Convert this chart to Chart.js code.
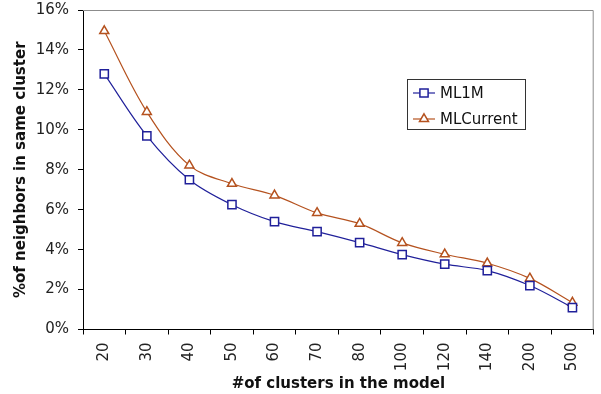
<!DOCTYPE html>
<html>
<head>
<meta charset="utf-8">
<script src="https://cdn.jsdelivr.net/npm/chart.js@4"></script>
<style>
  html, body { margin: 0; padding: 0; background: #fff; }
  #wrap { width: 601px; height: 394px; }
</style>
</head>
<body>
<div id="wrap"><canvas id="chart" width="601" height="394"></canvas></div>
<script>
// data
const clusters = ["20", "30", "40", "50", "60", "70", "80", "100", "120", "140", "200", "500"];
const ml1m = [12.8, 9.7, 7.5, 6.25, 5.4, 4.9, 4.35, 3.75, 3.27, 2.95, 2.2, 1.1];
const mlCurrent = [14.95, 10.9, 8.22, 7.3, 6.72, 5.84, 5.3, 4.34, 3.77, 3.32, 2.56, 1.35];
const yTicks = [0, 2, 4, 6, 8, 10, 12, 14, 16];

const BLUE = "#20209a";
const BROWN = "#b5521f";
const FONT = "'DejaVu Sans', Verdana, sans-serif";

// grey frame on top and right of the plot area
const framePlugin = {
    id: "frame",
    beforeDatasetsDraw(chart) {
        const a = chart.chartArea, ctx = chart.ctx;
        ctx.save();
        ctx.strokeStyle = "#8c8c8c";
        ctx.lineWidth = 1;
        ctx.beginPath();
        ctx.moveTo(a.left, a.top + 0.5);
        ctx.lineTo(a.right - 0.5, a.top + 0.5);
        ctx.lineTo(a.right - 0.5, a.bottom);
        ctx.stroke();
        ctx.restore();
    }
};

// excel style boxed legend inside the plot
const boxLegend = {
    id: "boxLegend",
    afterDraw(chart) {
        const ctx = chart.ctx;
        const x = 407.5, y = 79.5, w = 118, h = 50;
        ctx.save();
        ctx.fillStyle = "#fff";
        ctx.fillRect(x, y, w, h);
        ctx.strokeStyle = "#333";
        ctx.lineWidth = 1;
        ctx.strokeRect(x, y, w, h);
        ctx.font = "15px " + FONT;
        ctx.textBaseline = "middle";
        chart.data.datasets.forEach((ds, i) => {
            const cy = 93 + i * 26;
            ctx.strokeStyle = ds.borderColor;
            ctx.lineWidth = 1.2;
            ctx.beginPath();
            ctx.moveTo(413, cy);
            ctx.lineTo(435, cy);
            ctx.stroke();
            ctx.fillStyle = "#fff";
            ctx.strokeStyle = ds.borderColor;
            ctx.lineWidth = 1.5;
            Chart.helpers.drawPoint(ctx, {
                pointStyle: ds.pointStyle, radius: ds.pointRadius, rotation: 0, borderWidth: 1.5
            }, 424, cy);
            ctx.fillStyle = "#111";
            ctx.fillText(ds.label, 440, cy + 1);
        });
        ctx.restore();
    }
};

new Chart(document.getElementById("chart"), {
    type: "line",
    data: {
        labels: clusters,
        datasets: [
            {
                label: "ML1M",
                data: ml1m,
                borderColor: BLUE,
                borderWidth: 1.2,
                pointStyle: "rect",
                pointRadius: 5.8,
                pointBorderWidth: 1.5,
                pointBackgroundColor: "#fff",
                pointBorderColor: BLUE,
                tension: 0.35
            },
            {
                label: "MLCurrent",
                data: mlCurrent,
                borderColor: BROWN,
                borderWidth: 1.2,
                pointStyle: "triangle",
                pointRadius: 5.2,
                pointBorderWidth: 1.5,
                pointBackgroundColor: "#fff",
                pointBorderColor: BROWN,
                tension: 0.35
            }
        ]
    },
    options: {
        responsive: false,
        animation: false,
        layout: { padding: { left: 0, right: 7, top: 10, bottom: 0 } },
        plugins: {
            legend: { display: false },
            tooltip: { enabled: false }
        },
        scales: {
            x: {
                offset: true,
                grid: { display: true, drawOnChartArea: false, offset: true, tickLength: 5, color: "#000" },
                border: { color: "#000", width: 1 },
                ticks: {
                    color: "#222",
                    font: { family: FONT, size: 15 },
                    minRotation: 90,
                    maxRotation: 90,
                    padding: 8
                },
                title: {
                    display: true,
                    text: "#of clusters in the model",
                    color: "#111",
                    font: { family: FONT, size: 15, weight: "bold" },
                    padding: { top: 0, bottom: 1 }
                },
                afterFit(scale) {
                    scale.height = 64.5;
                    scale.paddingLeft = 0;
                    scale.paddingRight = 0;
                }
            },
            y: {
                min: 0,
                max: 16,
                afterBuildTicks(scale) { scale.ticks = yTicks.map(v => ({ value: v })); },
                grid: { display: true, drawOnChartArea: false, tickLength: 5, color: "#000" },
                border: { color: "#000", width: 1 },
                ticks: {
                    color: "#222",
                    font: { family: FONT, size: 15 },
                    padding: 9,
                    callback: v => v + "%"
                },
                title: {
                    display: true,
                    text: "%of neighbors in same cluster",
                    color: "#111",
                    font: { family: FONT, size: 15, weight: "bold" },
                    padding: { top: 12, bottom: 0 }
                },
                afterFit(scale) {
                    scale.width = 83;
                    scale.paddingTop = 0;
                    scale.paddingBottom = 0;
                }
            }
        }
    },
    plugins: [framePlugin, boxLegend]
});
</script>
</body>
</html>
